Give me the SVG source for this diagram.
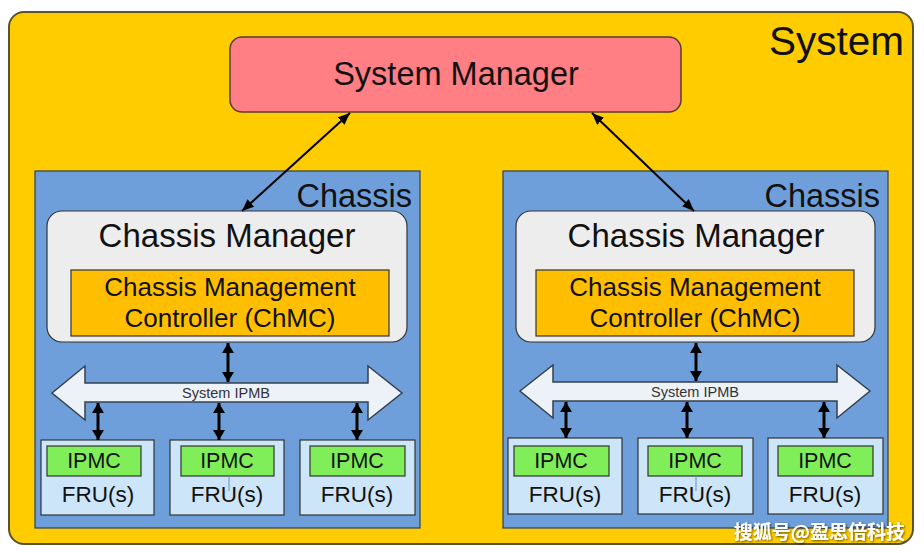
<svg xmlns="http://www.w3.org/2000/svg" width="924" height="553" viewBox="0 0 924 553">
<defs>
<style>
text{font-family:"Liberation Sans",Arial,sans-serif;fill:#111}
.sys{fill:#FFCC00;stroke:#5a5230;stroke-width:2}
.sm{fill:#FF7F84;stroke:#5a3a3a;stroke-width:1.5}
.ch{fill:#6F9FDB;stroke:#2f3f55;stroke-width:1.2}
.cm{fill:#EDEDED;stroke:#333;stroke-width:1.2}
.chmc{fill:#FFBF00;stroke:#333;stroke-width:1.2}
.bus{fill:#EDF1F8;stroke:#34404f;stroke-width:1.5}
.fru{fill:#CDE5F8;stroke:#333;stroke-width:1.2}
.ipmc{fill:#80EE58;stroke:#333;stroke-width:1.2}
.c1{stroke:#000;stroke-width:2;fill:none}
.c2{stroke:#000;stroke-width:3;fill:none}
.wm{font-family:"Noto Sans CJK SC","Liberation Sans",sans-serif;font-weight:bold;fill:#fff}
</style>
<marker id="a1" markerUnits="userSpaceOnUse" viewBox="0 0 12 10" markerWidth="12" markerHeight="10" refX="12" refY="5" orient="auto-start-reverse"><path d="M0,0 L12,5 L0,10 z" fill="#000"/></marker>
<marker id="a2" markerUnits="userSpaceOnUse" viewBox="0 0 10 12" markerWidth="10" markerHeight="12" refX="10" refY="6" orient="auto-start-reverse"><path d="M0,0 L10,6 L0,12 z" fill="#000"/></marker>
<filter id="sh" x="-10%" y="-30%" width="130%" height="170%"><feDropShadow dx="1" dy="1" stdDeviation="1" flood-color="#000" flood-opacity="0.6"/></filter>
</defs>
<rect width="924" height="553" fill="#fff"/>
<g id="system">
<rect class="sys" x="9" y="12" width="904" height="532" rx="15"/>
<text x="904" y="55" font-size="40.5" text-anchor="end">System</text>
</g>
<g id="system-manager">
<rect class="sm" x="230" y="37" width="451" height="75" rx="12"/>
<text x="456" y="85" font-size="32.5" text-anchor="middle">System Manager</text>
</g>
<g id="chassis-left">
<rect class="ch" x="35" y="171" width="385" height="357"/>
<text x="412" y="207" font-size="32.5" text-anchor="end">Chassis</text>
</g>
<g id="chassis-right">
<rect class="ch" x="503" y="171" width="385" height="357"/>
<text x="880" y="207" font-size="32.5" text-anchor="end">Chassis</text>
</g>
<g id="cm-left">
<rect class="cm" x="47" y="211" width="360" height="131" rx="15"/>
<text x="227" y="247" font-size="33" text-anchor="middle">Chassis Manager</text>
</g>
<g id="chmc-left">
<rect class="chmc" x="71" y="270" width="318" height="66"/>
<text x="230" y="296" font-size="26" text-anchor="middle">Chassis Management</text>
<text x="230" y="327" font-size="26" text-anchor="middle">Controller (ChMC)</text>
</g>
<g id="cm-right">
<rect class="cm" x="516" y="211" width="359" height="131" rx="15"/>
<text x="696" y="247" font-size="33" text-anchor="middle">Chassis Manager</text>
</g>
<g id="chmc-right">
<rect class="chmc" x="536" y="270" width="318" height="66"/>
<text x="695" y="296" font-size="26" text-anchor="middle">Chassis Management</text>
<text x="695" y="327" font-size="26" text-anchor="middle">Controller (ChMC)</text>
</g>
<g id="ipmb-left">
<polygon class="bus" points="52,393 85,366 85,383 368,383 368,366 402,393 368,420 368,402 85,402 85,420"/>
<text x="226" y="398" font-size="14.5" text-anchor="middle" style="fill:#333">System IPMB</text>
</g>
<g id="ipmb-right">
<polygon class="bus" points="520,391 553,365 553,382 837,382 837,365 870,391 837,418 837,401 553,401 553,418"/>
<text x="695" y="397" font-size="14.5" text-anchor="middle" style="fill:#333">System IPMB</text>
</g>
<g id="fru-l1">
<rect class="fru" x="41" y="440" width="113" height="75"/>
<rect class="ipmc" x="47" y="446" width="94" height="30"/>
<text x="94" y="468" font-size="21.5" text-anchor="middle">IPMC</text>
<text x="98" y="502" font-size="22.5" text-anchor="middle">FRU(s)</text>
</g>
<g id="fru-l2">
<rect class="fru" x="170" y="440" width="114" height="75"/>
<rect class="ipmc" x="181" y="446" width="93" height="30"/>
<text x="227" y="468" font-size="21.5" text-anchor="middle">IPMC</text>
<line x1="229" y1="476" x2="229" y2="491" stroke="#6a8fc0" stroke-width="1"/>
<text x="227" y="502" font-size="22.5" text-anchor="middle">FRU(s)</text>
</g>
<g id="fru-l3">
<rect class="fru" x="300" y="440" width="115" height="75"/>
<rect class="ipmc" x="310" y="446" width="95" height="30"/>
<text x="357" y="468" font-size="21.5" text-anchor="middle">IPMC</text>
<text x="357" y="502" font-size="22.5" text-anchor="middle">FRU(s)</text>
</g>
<g id="fru-r1">
<rect class="fru" x="508" y="438" width="114" height="76"/>
<rect class="ipmc" x="514" y="446" width="95" height="30"/>
<text x="561" y="468" font-size="21.5" text-anchor="middle">IPMC</text>
<text x="565" y="502" font-size="22.5" text-anchor="middle">FRU(s)</text>
</g>
<g id="fru-r2">
<rect class="fru" x="638" y="438" width="115" height="76"/>
<rect class="ipmc" x="648" y="446" width="94" height="30"/>
<text x="695" y="468" font-size="21.5" text-anchor="middle">IPMC</text>
<line x1="696" y1="476" x2="696" y2="491" stroke="#6a8fc0" stroke-width="1"/>
<text x="695" y="502" font-size="22.5" text-anchor="middle">FRU(s)</text>
</g>
<g id="fru-r3">
<rect class="fru" x="768" y="438" width="115" height="76"/>
<rect class="ipmc" x="778" y="446" width="95" height="30"/>
<text x="825" y="468" font-size="21.5" text-anchor="middle">IPMC</text>
<text x="825" y="502" font-size="22.5" text-anchor="middle">FRU(s)</text>
</g>
<g id="connectors">
<line class="c1" x1="350" y1="113" x2="242" y2="211" marker-start="url(#a1)" marker-end="url(#a1)"/>
<line class="c1" x1="592" y1="113" x2="694" y2="211" marker-start="url(#a1)" marker-end="url(#a1)"/>
<line class="c2" x1="228" y1="343" x2="228" y2="382" marker-start="url(#a2)" marker-end="url(#a2)"/>
<line class="c2" x1="696" y1="343" x2="696" y2="381" marker-start="url(#a2)" marker-end="url(#a2)"/>
<line class="c2" x1="98" y1="403" x2="98" y2="440" marker-start="url(#a2)" marker-end="url(#a2)"/>
<line class="c2" x1="219" y1="403" x2="219" y2="440" marker-start="url(#a2)" marker-end="url(#a2)"/>
<line class="c2" x1="357" y1="403" x2="357" y2="440" marker-start="url(#a2)" marker-end="url(#a2)"/>
<line class="c2" x1="566" y1="402" x2="566" y2="438" marker-start="url(#a2)" marker-end="url(#a2)"/>
<line class="c2" x1="687" y1="402" x2="687" y2="438" marker-start="url(#a2)" marker-end="url(#a2)"/>
<line class="c2" x1="824" y1="402" x2="824" y2="438" marker-start="url(#a2)" marker-end="url(#a2)"/>
</g>
<text class="wm" x="905" y="539" font-size="19" text-anchor="end" filter="url(#sh)">搜狐号@盈思倍科技</text>
</svg>
